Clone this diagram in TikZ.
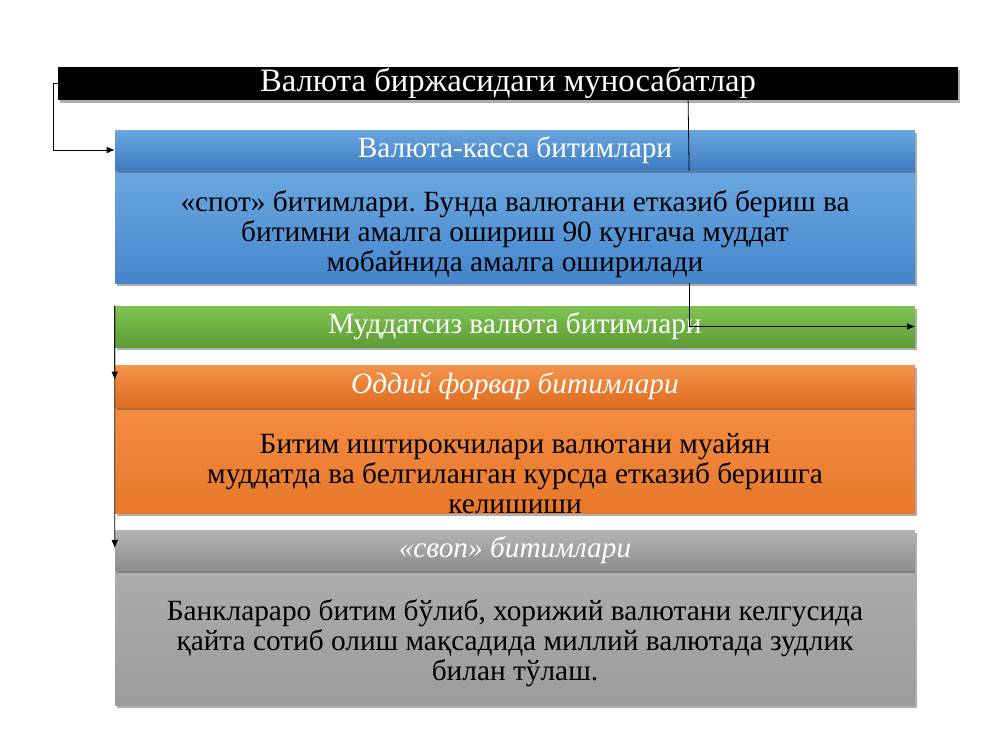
\documentclass[tikz,border=0pt]{standalone}
\usepackage{fontspec}
\setmainfont{Liberation Serif}
\frenchspacing
\usetikzlibrary{shadows,arrows.meta,calc}
\definecolor{blueA}{HTML}{6BA8E2}
\definecolor{blueB}{HTML}{4585CB}
\definecolor{blueHA}{HTML}{68A6E0}
\definecolor{blueHB}{HTML}{3F7CC2}
\definecolor{greenA}{HTML}{80C352}
\definecolor{greenB}{HTML}{5E9C36}
\definecolor{orA}{HTML}{F5944C}
\definecolor{orB}{HTML}{DE6C20}
\definecolor{orBodyA}{HTML}{F48C40}
\definecolor{orBodyB}{HTML}{E8782C}
\definecolor{grA}{HTML}{B4B4B4}
\definecolor{grB}{HTML}{8E8E8E}
\definecolor{grBodyA}{HTML}{ACACAC}
\definecolor{grBodyB}{HTML}{9C9C9C}
\tikzset{
  boxshadow/.style={drop shadow={opacity=0.45,shadow xshift=1.5pt,shadow yshift=-2pt,fill=black!70}},
  bar/.style={rectangle,inner sep=0pt,minimum width=600pt,boxshadow},
  headtext/.style={text=white,font=\fontsize{22}{25}\selectfont},
  headital/.style={text=white,font=\fontsize{22}{25}\selectfont\itshape},
  bodytext/.style={text=black,align=center,font=\fontsize{22}{22.5}\selectfont},
  conn/.style={draw=black,line width=0.6pt},
  tip/.style={-{Latex[length=6pt,width=5pt]}},
}
\begin{document}
\begin{tikzpicture}[x=0.75pt,y=-0.75pt]
\useasboundingbox (0,0) rectangle (1000,750);
% title
\node[rectangle,inner sep=0pt,minimum width=675pt,minimum height=24.75pt,fill=black,boxshadow,
      text=white,font=\fontsize{24.5}{27}\selectfont] (title) at (508,83.5) {Валюта биржасидаги муносабатлар};
% blue
\node[bar,minimum height=84.75pt,top color=blueA,bottom color=blueB] (blueBody) at (515,226.5) {};
\node[bodytext] (blueText) at (515,234) {«спот» битимлари. Бунда валютани етказиб бериш ва\\битимни амалга ошириш 90 кунгача муддат\\мобайнида амалга оширилади};
\node[bar,minimum height=30pt,top color=blueHA,bottom color=blueHB,headtext] (blueHead) at (515,150) {Валюта-касса битимлари};
% green
\node[bar,minimum height=30.75pt,top color=greenA,bottom color=greenB,headtext] (green) at (515,326.5) {Муддатсиз валюта битимлари};
% orange
\node[bar,minimum height=79.5pt,top color=orBodyA,bottom color=orBodyB] (orangeBody) at (515,460) {};
\node[bodytext] (orangeText) at (515,474) {Битим иштирокчилари валютани муайян\\муддатда ва белгиланган курсда етказиб беришга\\келишиши};
\node[bar,minimum height=31.5pt,top color=orA,bottom color=orB,headital] (orangeHead) at (515,386) {Оддий форвар битимлари};
% gray
\node[bar,minimum height=101.25pt,top color=grBodyA,bottom color=grBodyB] (grayBody) at (515,637.5) {};
\node[bodytext] (grayText) at (515,643.5) {Банклараро битим бўлиб, хорижий валютани келгусида\\қайта сотиб олиш мақсадида миллий валютада зудлик\\билан тўлаш.};
\node[bar,minimum height=30pt,top color=grA,bottom color=grB,headital] (grayHead) at (515,550) {«своп» битимлари};
% connectors
\draw[conn,tip] (title.west) -- ++(-4,0) |- (blueHead.west);
\draw[conn] ($(title.south west)!0.7!(title.south east)$) -- ($(blueHead.south west)!0.7175!(blueHead.south east)$);
\draw[conn,tip] ($(blueBody.south west)!0.7175!(blueBody.south east)$) |- (green.east);
\draw[conn,tip] (green.north west) -- ($(orangeHead.north west)!0.35!(orangeHead.south west)$);
\draw[conn,tip] (green.north west) -- ($(grayHead.north west)!0.45!(grayHead.south west)$);
\end{tikzpicture}
\end{document}
